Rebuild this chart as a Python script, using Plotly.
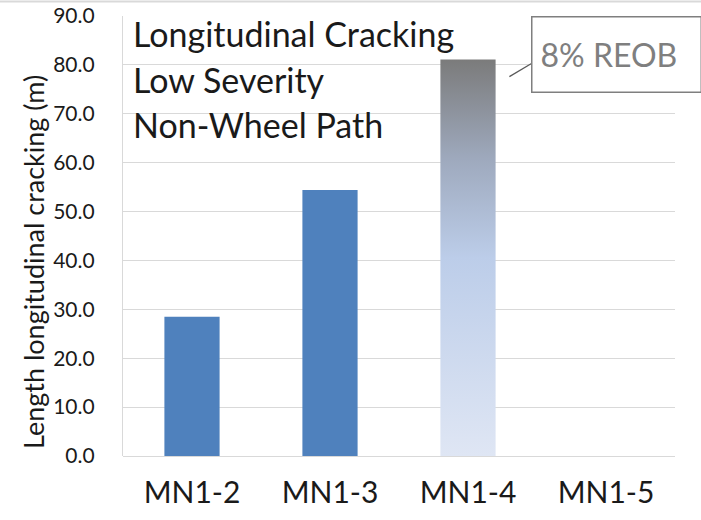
import plotly.graph_objects as go

# Longitudinal cracking, low severity, non-wheel path (metres per section)
categories = ["MN1-2", "MN1-3", "MN1-4", "MN1-5"]
crack_length = [28.5, 54.4, 81.1, 0.0]
highlight = "MN1-4"            # section drawn with a gradient fill
highlight_note = "8% REOB"
title_lines = ["Longitudinal Cracking", "Low Severity", "Non-Wheel Path"]
y_ticks = [0, 10, 20, 30, 40, 50, 60, 70, 80, 90]

FONT = "Lato"
TXT = "#1a1a1a"
GRID = "#d9d9d9"
BAR_W = 0.4

hi = categories.index(highlight)
plain_x = [i for i in range(len(categories)) if i != hi]
plain_y = [crack_length[i] for i in plain_x]
hv = crack_length[hi]

fig = go.Figure()

# solid bars
fig.add_trace(go.Bar(
    x=plain_x, y=plain_y, width=BAR_W,
    marker=dict(color="#4f81bd", line=dict(width=0)),
    showlegend=False, hoverinfo="skip",
))

# gradient bar (grey at the top fading to pale blue at the base)
fig.add_trace(go.Scatter(
    x=[hi - BAR_W / 2, hi + BAR_W / 2, hi + BAR_W / 2, hi - BAR_W / 2, hi - BAR_W / 2],
    y=[0, 0, hv, hv, 0],
    mode="lines", line=dict(width=0), fill="toself",
    fillgradient=dict(
        type="vertical",
        colorscale=[[0.0, "#dfe6f4"], [0.5, "#bccde9"], [0.75, "#9ea9bd"], [1.0, "#7b7b7b"]],
    ),
    showlegend=False, hoverinfo="skip",
))

annotations = []
for k, line in enumerate(title_lines):
    annotations.append(dict(
        text=line, xref="paper", yref="paper",
        x=(131 - 123) / 552, y=(456 - (33 + 46 * k)) / 440,
        xanchor="left", yanchor="middle", showarrow=False,
        font=dict(family=FONT, size=34, color=TXT),
    ))

# callout box for the highlighted section
annotations.append(dict(
    text=highlight_note, xref="x", yref="y",
    x=hi + 0.46, y=hv + 1.1, xanchor="left", yanchor="middle",
    showarrow=False, align="left", width=152, height=58, borderpad=8,
    bordercolor="#7f7f7f", borderwidth=1.5, bgcolor="white",
    font=dict(family=FONT, size=32, color="#7f7f7f"),
))

# y-axis title
annotations.append(dict(
    text="Length longitudinal cracking (m)", xref="paper", yref="paper",
    x=(33 - 123) / 552, y=(456 - 262) / 440, textangle=-90,
    xanchor="center", yanchor="middle", showarrow=False,
    font=dict(family=FONT, size=27, color=TXT),
))

shapes = [
    # leader from the bar top to the callout
    dict(type="line", xref="x", yref="y",
         x0=hi + 0.3, y0=hv - 3.5, x1=hi + 0.46, y1=hv - 0.8,
         line=dict(color="#595959", width=1.2)),
    # thin rule along the top edge of the figure
    dict(type="line", xref="paper", yref="paper",
         x0=-123 / 552, x1=(701 - 123) / 552, y0=(456 - 1.5) / 440, y1=(456 - 1.5) / 440,
         line=dict(color=GRID, width=2)),
]

fig.update_layout(
    width=701, height=520,
    margin=dict(l=123, r=26, t=16, b=64, autoexpand=False),
    paper_bgcolor="white", plot_bgcolor="white",
    annotations=annotations, shapes=shapes,
    bargap=0.6,
)
fig.update_xaxes(
    automargin=False,
    range=[-0.5, len(categories) - 0.5],
    tickvals=list(range(len(categories))), ticktext=categories,
    showgrid=False, zeroline=False, showline=False,
    ticks="outside", ticklen=10, tickcolor="rgba(0,0,0,0)",
    tickfont=dict(family=FONT, size=30, color=TXT),
)
fig.update_yaxes(
    automargin=False,
    range=[0, 90], tickvals=y_ticks, tickformat=".1f",
    showgrid=True, gridcolor=GRID, gridwidth=1.3,
    zeroline=True, zerolinecolor=GRID, zerolinewidth=1.3,
    showline=True, linecolor=GRID, linewidth=1.3,
    ticks="outside", ticklen=23, tickcolor="rgba(0,0,0,0)",
    tickfont=dict(family=FONT, size=21, color=TXT),
)

fig.write_html("out.html")
